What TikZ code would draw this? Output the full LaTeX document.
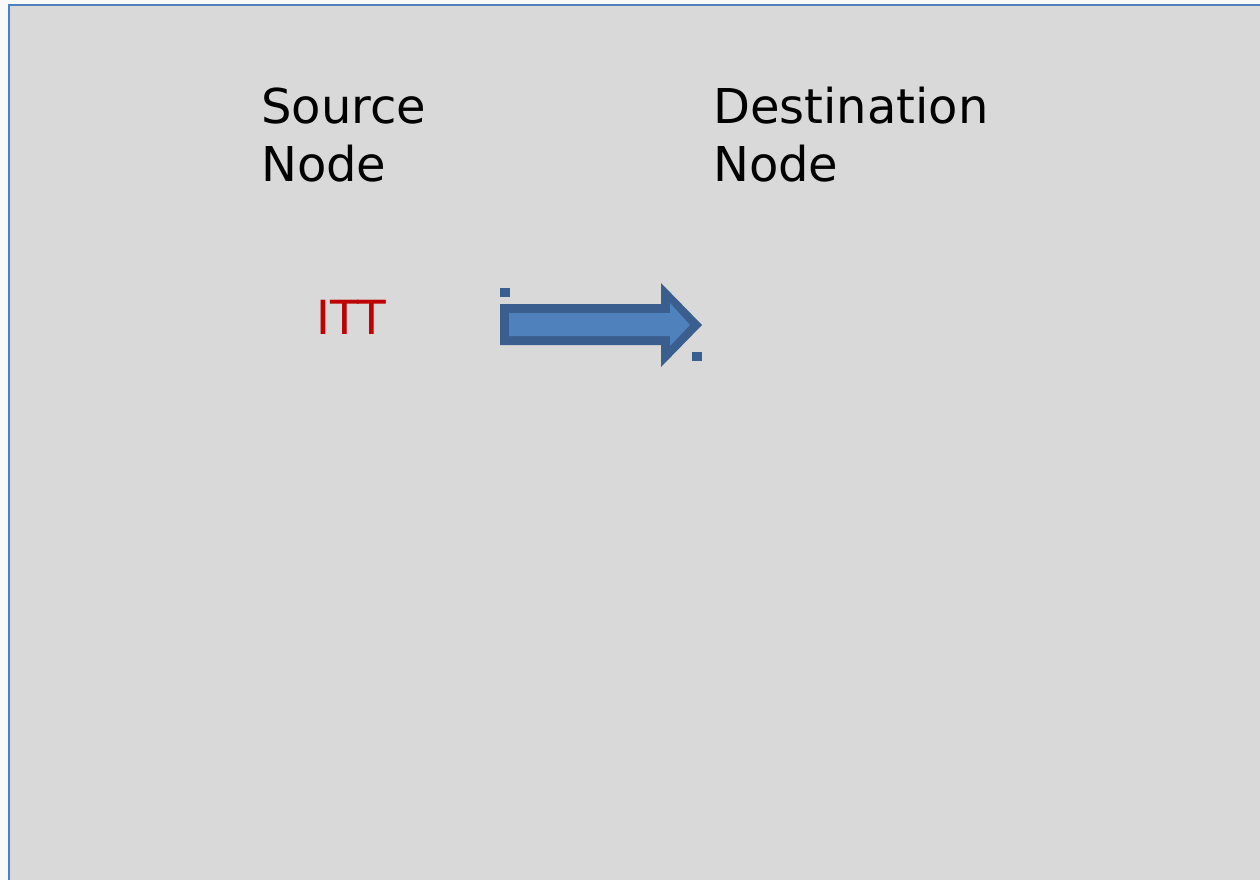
\documentclass[tikz,border=0pt]{standalone}
\usepackage{fontspec}
\setmainfont{DejaVu Sans}
\definecolor{pagebg}{HTML}{F9F9F9}
\definecolor{slidebg}{HTML}{D9D9D9}
\definecolor{frameblue}{HTML}{4F81BD}
\definecolor{arrowfill}{HTML}{4F81BD}
\definecolor{arrowedge}{HTML}{3A5F8F}
\definecolor{ittred}{HTML}{C00000}
\begin{document}
\begin{tikzpicture}[x=1pt,y=-1pt,
  label text/.style={anchor=base west,inner sep=0pt,align=left,
    font=\fontsize{48}{57.3}\selectfont},
  handle/.style={fill=arrowedge,draw=none}]
  \useasboundingbox (0,0) rectangle (1260,880);
  \fill[pagebg] (0,0) rectangle (1260,880);
  % slide area with its blue frame on the top and left
  \fill[slidebg] (9,5) rectangle (1262,882);
  \draw[frameblue,line width=2.2pt] (9,882) -- (9,5) -- (1262,5);
  % headings (base anchor sits on the second line)
  \node[label text] (src) at (261,181) {Source\\Node};
  \node[label text] (dst) at (713,181) {Destination\\Node};
  % message label
  \node[anchor=base west,inner sep=0pt,text=ittred,
    font=\fontsize{47}{56}\selectfont] (itt) at (316,334) {ITT};
  % block arrow: dark outline, lighter body
  \fill[arrowedge] (500,304) -- (661,304) -- (661,283) -- (702,325)
    -- (661,367) -- (661,345) -- (500,345) -- cycle;
  \fill[arrowfill] (509,313) -- (670,313) -- (670,303) -- (690,325)
    -- (670,346) -- (670,336) -- (509,336) -- cycle;
  % selection handles
  \fill[handle] (500,288) rectangle (510,297);
  \fill[handle] (692,352) rectangle (702,361);
\end{tikzpicture}
\end{document}
